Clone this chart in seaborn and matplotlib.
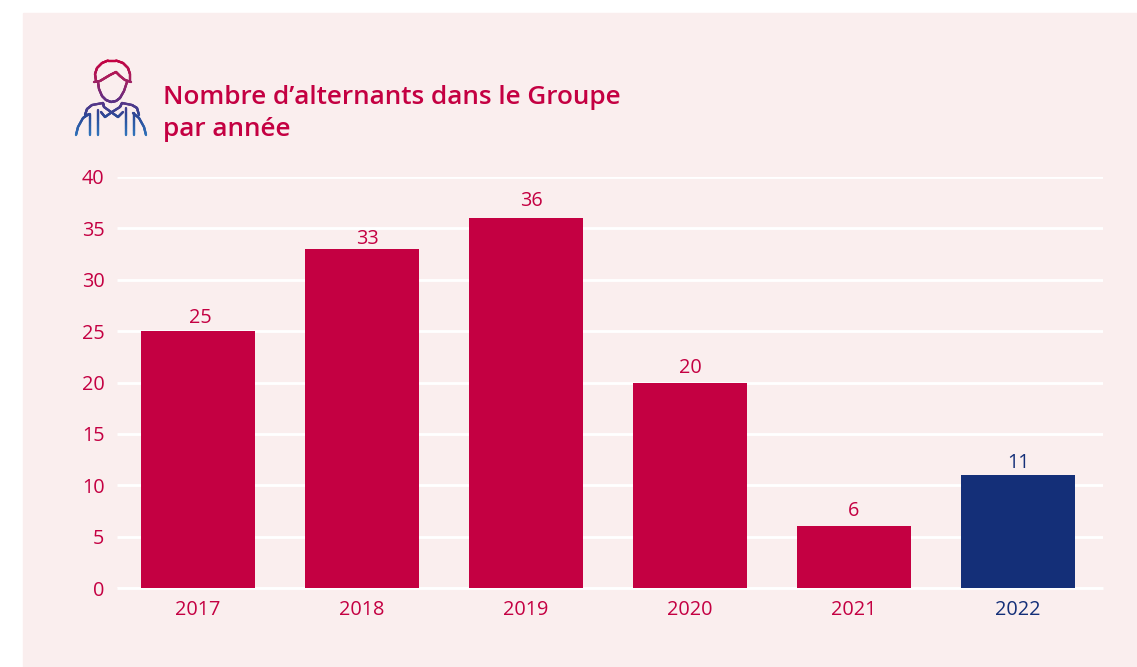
import numpy as np
import pandas as pd
import matplotlib.pyplot as plt
import seaborn as sns

from matplotlib.collections import LineCollection
from matplotlib.colors import LinearSegmentedColormap
from matplotlib.patches import Rectangle

years = ["2017", "2018", "2019", "2020", "2021", "2022"]
counts = [25, 33, 36, 20, 6, 11]
y_ticks = [0, 5, 10, 15, 20, 25, 30, 35, 40]
title_lines = ["Nombre d\u2019alternants dans le Groupe", "par année"]

CRIMSON = "#C40042"
NAVY = "#142F78"
PANEL = "#FAEEEE"
W, H = 1137, 667

# the value labels sit by hand in the original, nudges in points
label_nudges = [(1.5, 2.0), (4, 0.0), (4, 5.2), (0, 2.9), (0, 4.2), (0, 1.4)]

# icon outline in image pixels
icon_paths = [
    [(96, 81), (95, 74), (97, 68), (102, 63), (108, 60.5), (116, 60.5), (123, 63), (128, 68), (130, 74), (130, 81)],
    [(94, 82), (100, 81), (105, 78), (110, 75), (116, 72), (120, 76), (125, 80), (131, 82)],
    [(98, 82), (99, 89), (102, 96), (106, 100), (111, 102), (116, 101), (120, 98), (124, 91), (127, 82)],
    [(85, 115), (87, 109), (92, 105), (103, 103)],
    [(122, 103), (132, 105), (137, 108), (139, 115)],
    [(76, 135), (78, 127), (83, 118), (89, 114)],
    [(146, 135), (144, 127), (139, 118), (133, 113)],
    [(90, 114), (90, 135)],
    [(98, 110), (98, 135)],
    [(126, 108), (126, 135)],
    [(134, 113), (134, 135)],
    [(103, 103), (104, 107), (111, 112), (118, 117), (123, 112)],
    [(122, 103), (120, 107), (112, 112), (105, 117), (101, 112)],
]


def draw_icon(fig, paths):
    cmap = LinearSegmentedColormap.from_list(
        "icon", [CRIMSON, "#A8205F", "#6A2C80", "#2C4A98", "#2F72BA"])
    overlay = fig.add_axes([0, 0, 1, 1], facecolor="none")
    overlay.set_xlim(0, W)
    overlay.set_ylim(H, 0)
    overlay.axis("off")
    for path in paths:
        xy = np.array(path, dtype=float)
        # split each stroke so the colour can follow the height
        steps = np.linspace(0, len(xy) - 1, 12 * (len(xy) - 1) + 1)
        idx = np.arange(len(xy))
        fine = np.column_stack([np.interp(steps, idx, xy[:, 0]),
                                np.interp(steps, idx, xy[:, 1])])
        segs = np.stack([fine[:-1], fine[1:]], axis=1)
        lc = LineCollection(segs, cmap=cmap, linewidths=1.7, capstyle="round")
        lc.set_array(segs[:, :, 1].mean(axis=1))
        lc.set_clim(60, 135)
        overlay.add_collection(lc)


sns.set_theme(style="white", rc={"axes.facecolor": "none"})
plt.rcParams["font.family"] = ["Open Sans", "DejaVu Sans"]

frame = pd.DataFrame({"year": years, "count": counts})
palette = {y: (NAVY if y == "2022" else CRIMSON) for y in years}

fig = plt.figure(figsize=(W / 100, H / 100), dpi=100, facecolor="white")
fig.add_artist(Rectangle((22.5 / W, 0), 1 - 22.5 / W, 1 - 13 / H,
                         transform=fig.transFigure, color=PANEL, zorder=-1))

ax = fig.add_axes([117 / W, 1 - 588 / H, (1103 - 117) / W, (588 - 177) / H])
sns.barplot(data=frame, x="year", y="count", hue="year", palette=palette,
            width=0.695, saturation=1, legend=False, linewidth=0, zorder=3, ax=ax)

ax.set_xlim(-0.494, 5.518)
ax.set_ylim(0, 40)
ax.set_yticks(y_ticks)
ax.set_xlabel("")
ax.set_ylabel("")
ax.grid(axis="y", color="white", linewidth=2, solid_capstyle="butt")
ax.set_axisbelow(True)
sns.despine(ax=ax, left=True, top=True, right=True)
ax.spines["bottom"].set_color("white")
ax.spines["bottom"].set_linewidth(2)
ax.spines["bottom"].set_capstyle("butt")

ax.tick_params(axis="both", length=0, labelsize=14.3, labelcolor=CRIMSON)
ax.tick_params(axis="y", pad=9)
ax.tick_params(axis="x", pad=8.5)
ax.get_xticklabels()[-1].set_color(NAVY)
for tick in ax.get_xticklabels() + ax.get_yticklabels():
    tick.set_fontweight(500)

for container, year, (dx, dy) in zip(ax.containers, years, label_nudges):
    for ann in ax.bar_label(container, fontsize=14.3, fontweight=500,
                            color=palette[year]):
        ann.xyann = (dx, dy)

for line, y in zip(title_lines, [98, 130]):
    fig.text(163 / W, 1 - y / H, line, color=CRIMSON, fontsize=18.8,
             fontweight=600, va="center", ha="left")

draw_icon(fig, icon_paths)

fig.savefig("out.png", dpi=100)
